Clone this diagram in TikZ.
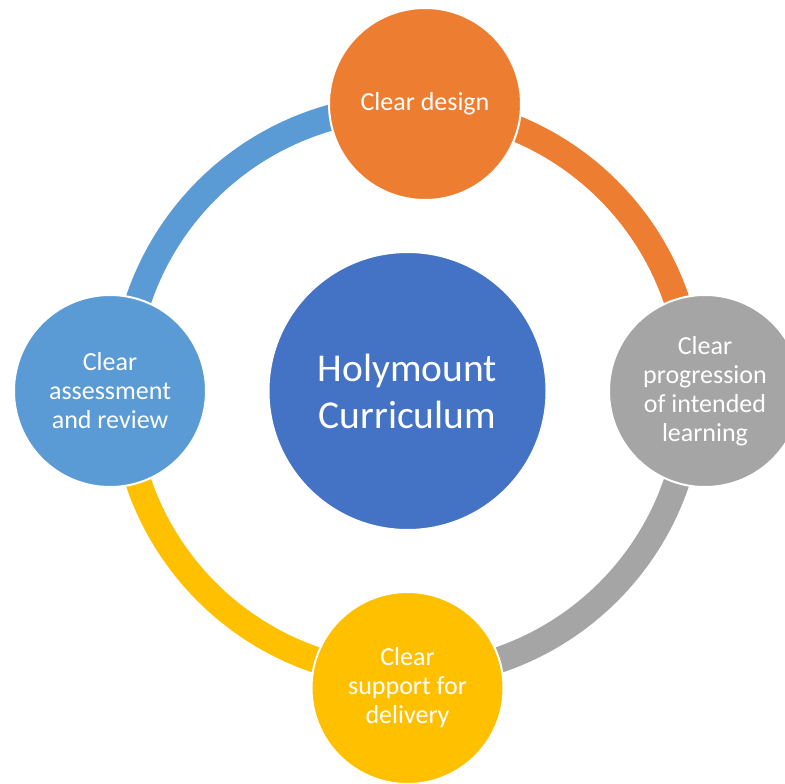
\documentclass[tikz,border=0pt]{standalone}
\usepackage{fontspec}
\setmainfont{Carlito}
\usepackage{xcolor}
\definecolor{HubBlue}{HTML}{4472C4}
\definecolor{StageOrange}{HTML}{ED7D31}
\definecolor{StageGray}{HTML}{A5A5A5}
\definecolor{StageGold}{HTML}{FFC000}
\definecolor{StageBlue}{HTML}{5B9BD5}

\tikzset{
  stage/.style={circle, draw=white, line width=2pt, minimum size=192pt, inner sep=0pt,
    align=center, text=white, font=\fontsize{26}{29}\selectfont},
  hub/.style={circle, draw=white, line width=2pt, fill=HubBlue, minimum size=278pt, inner sep=0pt,
    align=center, text=white, font=\fontsize{39.5}{47}\selectfont},
  ringarc/.style={line width=26pt}
}

\begin{document}
\begin{tikzpicture}[x=1pt, y=-1pt]
  \clip (0,0) rectangle (785,784);
  \fill[white] (0,0) rectangle (785,784);

  \node[hub] (curr) at (407.5,391) {Holymount\\Curriculum};

  % ring pieces, drawn first so the stage circles sit on top
  \draw[ringarc, StageOrange] ([shift={(curr.center)}]-86.5:284) arc[start angle=-86.5, end angle=0, radius=284];
  \draw[ringarc, StageGray] ([shift={(curr.center)}]0:284) arc[start angle=0, end angle=90, radius=284];
  \draw[ringarc, StageGold] ([shift={(curr.center)}]90:284) arc[start angle=90, end angle=180, radius=284];
  \draw[ringarc, StageBlue] ([shift={(curr.center)}]180:284) arc[start angle=180, end angle=273.5, radius=284];

  \node[stage, fill=StageOrange] (design) at (425,104) {Clear design};
  \node[stage, fill=StageGray] (progress) at (705,391) {Clear\\progression\\of intended\\learning};
  \node[stage, fill=StageGold] (delivery) at (407.5,688) {Clear\\support for\\delivery};
  \node[stage, fill=StageBlue] (review) at (110,391) {Clear\\assessment\\and review};
\end{tikzpicture}
\end{document}
